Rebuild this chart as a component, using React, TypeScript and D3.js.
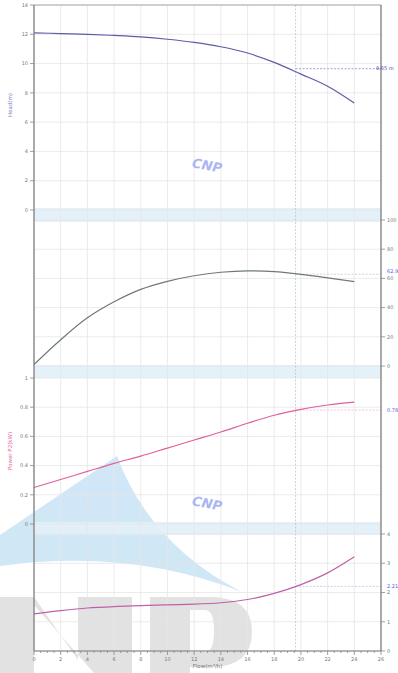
import React from 'react';
import * as d3 from 'd3';

// pump curve readings (flow in m³/h)
const flow = [0, 2, 4, 6, 8, 10, 12, 14, 16, 18, 20, 22, 24];
const head = [12.1, 12.05, 12.0, 11.92, 11.82, 11.66, 11.45, 11.15, 10.72, 10.08, 9.28, 8.45, 7.3];
const efficiency = [1, 18, 33, 44, 52.5, 58, 61.8, 64.2, 65.2, 64.7, 62.8, 60.4, 57.8];
const power = [0.25, 0.305, 0.36, 0.415, 0.465, 0.52, 0.575, 0.63, 0.69, 0.745, 0.785, 0.815, 0.835];
const npsh = [1.27, 1.38, 1.47, 1.52, 1.55, 1.58, 1.6, 1.65, 1.76, 1.97, 2.27, 2.67, 3.22];

const xTicks = [0, 2, 4, 6, 8, 10, 12, 14, 16, 18, 20, 22, 24, 26];
const headTicks = [0, 2, 4, 6, 8, 10, 12, 14];
const effTicks = [0, 20, 40, 60, 80, 100];
const powerTicks = [0, 0.2, 0.4, 0.6, 0.8, 1];
const npshTicks = [0, 1, 2, 3, 4];

// duty point
const dutyFlow = 19.6;
const dutyHead = 9.65;
const dutyEff = 62.9;
const dutyPower = 0.78;
const dutyNpsh = 2.21;

const W = 398, H = 673;
const left = 34, right = 381, top = 5, bottom = 651;
const font = 'DejaVu Sans, sans-serif';

const App = () => {
  const x = d3.scaleLinear().domain([0, 26]).range([left, right]);
  const yHead = d3.scaleLinear().domain([0, 14]).range([210, top]);
  const yEff = d3.scaleLinear().domain([0, 100]).range([366, 220]);
  const yPow = d3.scaleLinear().domain([0, 1]).range([524, 378]);
  const yNpsh = d3.scaleLinear().domain([0, 4]).range([bottom, 534]);

  const mk = (vals: number[], y: d3.ScaleLinear<number, number>) =>
    d3.line<number>()
      .x((_, i) => x(flow[i]))
      .y(d => y(d))
      .curve(d3.curveCatmullRom.alpha(0.5))(vals) as string;

  const minor = d3.range(0, 26.01, 0.5);
  const bands = [[208, 222], [365, 378], [522, 535]];

  const hGrid = [
    ...headTicks.map(v => yHead(v)),
    ...effTicks.map(v => yEff(v)),
    ...powerTicks.map(v => yPow(v)),
    ...npshTicks.map(v => yNpsh(v)),
  ];

  const leftAxis = (ticks: number[], y: d3.ScaleLinear<number, number>) =>
    ticks.map(v => (
      <g key={'l' + v + y(v)}>
        <line x1={left - 4} x2={left} y1={y(v)} y2={y(v)} stroke="#888" strokeWidth={0.8} />
        <text x={left - 6} y={y(v)} dy="0.35em" textAnchor="end" fontSize={5} fill="#777">{v}</text>
      </g>
    ));

  const rightAxis = (ticks: number[], y: d3.ScaleLinear<number, number>) =>
    ticks.map(v => (
      <g key={'r' + v + y(v)}>
        <line x1={right} x2={right + 4} y1={y(v)} y2={y(v)} stroke="#888" strokeWidth={0.8} />
        <text x={right + 6} y={y(v)} dy="0.35em" fontSize={5} fill="#777">{v}</text>
      </g>
    ));

  const dx = x(dutyFlow);

  return (
    <svg width={W} height={H} style={{ position: 'absolute', left: 0, top: 0 }} fontFamily={font}>
      <rect width={W} height={H} fill="#fff" />

      {/* watermark logo */}
      <g opacity={0.4}>
        <path d="M0,535 L117,456 Q150,545 242,592 Q130,548 0,566 Z" fill="#8cc4ea" />
        <path d="M-4,597 L34,597 L78,660 L78,597 L132,597 L132,673 L94,673 L34,605 L34,673 L-4,673 Z" fill="#b8b8b8" />
        <path d="M150,597 L210,597 Q252,597 252,632 Q252,667 210,667 L190,667 L190,673 L150,673 Z M190,610 L190,652 L205,652 Q214,652 214,631 Q214,610 205,610 Z" fill="#b8b8b8" fillRule="evenodd" />
      </g>

      {/* bands between panels */}
      {bands.map(([a, b]) => (
        <rect key={a} x={left} y={a} width={right - left} height={b - a} fill="#e2eff8" opacity={0.9} />
      ))}

      {/* grid */}
      {xTicks.map(v => (
        <line key={'vx' + v} x1={x(v)} x2={x(v)} y1={top} y2={bottom} stroke="#e6e6e6" strokeWidth={0.8} />
      ))}
      {hGrid.map((v, i) => (
        <line key={'hg' + i} x1={left} x2={right} y1={v} y2={v} stroke="#e6e6e6" strokeWidth={0.8} />
      ))}

      {/* CNP text marks */}
      <text x={207} y={170} fontSize={13} fontWeight="bold" fontStyle="italic" fill="#aab6f2" textAnchor="middle" transform="rotate(10 207 166)">CNP</text>
      <text x={207} y={508} fontSize={13} fontWeight="bold" fontStyle="italic" fill="#aab6f2" textAnchor="middle" transform="rotate(10 207 504)">CNP</text>

      {/* duty point lines */}
      <line x1={dx} x2={dx} y1={top} y2={bottom} stroke="#b8c4e0" strokeWidth={0.8} strokeDasharray="2,1.5" />
      <line x1={dx} x2={right} y1={yHead(dutyHead)} y2={yHead(dutyHead)} stroke="#8a8ad0" strokeWidth={0.8} strokeDasharray="2,1.5" />
      <line x1={dx} x2={right} y1={yEff(dutyEff)} y2={yEff(dutyEff)} stroke="#c8c8c8" strokeWidth={0.8} strokeDasharray="2,1.5" />
      <line x1={dx} x2={right} y1={yPow(dutyPower)} y2={yPow(dutyPower)} stroke="#f0b8d0" strokeWidth={0.8} strokeDasharray="2,1.5" />
      <line x1={dx} x2={right} y1={yNpsh(dutyNpsh)} y2={yNpsh(dutyNpsh)} stroke="#c0c0ee" strokeWidth={0.8} strokeDasharray="2,1.5" />

      {/* curves */}
      <path d={mk(head, yHead)} fill="none" stroke="#5c5ca8" strokeWidth={1.2} />
      <path d={mk(efficiency, yEff)} fill="none" stroke="#6f7a78" strokeWidth={1.2} />
      <path d={mk(power, yPow)} fill="none" stroke="#e0609c" strokeWidth={1.2} />
      <path d={mk(npsh, yNpsh)} fill="none" stroke="#c060a8" strokeWidth={1.2} />

      {/* frame */}
      <line x1={left} x2={right} y1={top} y2={top} stroke="#aaa" strokeWidth={1} />
      <line x1={left} x2={left} y1={top} y2={bottom} stroke="#777" strokeWidth={1.2} />
      <line x1={right} x2={right} y1={top} y2={bottom} stroke="#777" strokeWidth={1.2} />
      <line x1={left} x2={right} y1={bottom} y2={bottom} stroke="#777" strokeWidth={1.2} />

      {/* axes */}
      {leftAxis(headTicks, yHead)}
      {leftAxis(powerTicks, yPow)}
      {rightAxis(effTicks, yEff)}
      {rightAxis(npshTicks, yNpsh)}

      {minor.map(v => (
        <line key={'mx' + v} x1={x(v)} x2={x(v)} y1={bottom} y2={bottom + (v % 2 === 0 ? 4 : 2)} stroke="#888" strokeWidth={0.8} />
      ))}
      {xTicks.map(v => (
        <text key={'xt' + v} x={x(v)} y={bottom + 10} textAnchor="middle" fontSize={5} fill="#777">{v}</text>
      ))}
      <text x={(left + right) / 2} y={668} textAnchor="middle" fontSize={5.5} fill="#777">Flow(m³/h)</text>

      <text transform="translate(12,105) rotate(-90)" textAnchor="middle" fontSize={5.5} fill="#8080c0">Head(m)</text>
      <text transform="translate(12,451) rotate(-90)" textAnchor="middle" fontSize={5.5} fill="#e0609c">Power P2(kW)</text>

      {/* duty labels */}
      <text x={376} y={yHead(dutyHead)} dy="0.35em" fontSize={5} fill="#5050a8">{dutyHead} m</text>
      <text x={387} y={yEff(dutyEff) - 3} dy="0.35em" fontSize={5} fill="#5a5ae0">{dutyEff}</text>
      <text x={387} y={yPow(dutyPower)} dy="0.35em" fontSize={5} fill="#5a5ae0">{dutyPower}</text>
      <text x={387} y={yNpsh(dutyNpsh)} dy="0.35em" fontSize={5} fill="#5a5ae0">{dutyNpsh}</text>
    </svg>
  );
};

export default App;
